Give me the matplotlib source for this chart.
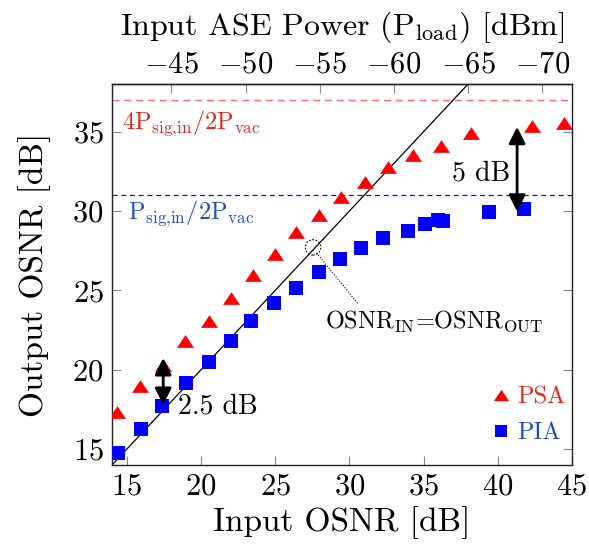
import matplotlib
matplotlib.use("Agg")
import matplotlib.pyplot as plt
from matplotlib.patches import Ellipse, FancyArrowPatch
import numpy as np

plt.rcParams['font.family'] = 'serif'
plt.rcParams['font.serif'] = ['cmr10']
plt.rcParams['mathtext.fontset'] = 'cm'
plt.rcParams['axes.formatter.use_mathtext'] = True
plt.rcParams['axes.unicode_minus'] = True

# ---- data ----
psa_in = [14.32, 15.88, 17.45, 18.95, 20.53, 22.01, 23.51, 24.97, 26.43, 27.93,
          29.46, 31.03, 32.60, 34.28, 36.19, 38.21, 42.29, 44.44]
psa_out = [17.33, 18.95, 20.31, 21.78, 23.04, 24.51, 25.98, 27.27, 28.65, 29.75,
           30.87, 31.85, 32.76, 33.53, 34.12, 34.90, 35.36, 35.57]
pia_in = [14.42, 15.93, 17.39, 18.98, 20.53, 22.01, 23.40, 24.92, 26.38, 27.93,
          29.34, 30.80, 32.28, 33.94, 35.06, 35.96, 36.30, 39.44, 41.79]
pia_out = [14.75, 16.26, 17.69, 19.16, 20.50, 21.82, 23.04, 24.20, 25.14, 26.15,
           26.97, 27.67, 28.30, 28.77, 29.20, 29.45, 29.40, 29.94, 30.13]
x_ticks = [15, 20, 25, 30, 35, 40, 45]
y_ticks = [15, 20, 25, 30, 35]
top_ticks = [-45, -50, -55, -60, -65, -70]
psa_limit = 37.0   # 4Psig,in/2Pvac
pia_limit = 31.0   # Psig,in/2Pvac
ase_offset = 27.0  # P_load = -(OSNR_in + offset)

fig = plt.figure(figsize=(5.89, 5.44), dpi=100)
ax = fig.add_axes([112/589, 1-465/544, 460/589, 381/544])
ax.set_xlim(14, 45)
ax.set_ylim(14, 38)

tri = [(-1, -0.75), (1, -0.75), (0, 0.75)]
ax.plot(psa_in, psa_out, linestyle='none', marker=tri, markersize=12.2,
        color='#ff0000', markeredgewidth=0, label='PSA', zorder=3)
ax.plot(pia_in, pia_out, linestyle='none', marker='s', markersize=10,
        color='#0000ff', markeredgewidth=0, label='PIA', zorder=3)

# reference lines
xx = np.array([14, 45])
ax.plot(xx, xx, color='black', lw=0.9, zorder=2)
ax.axhline(psa_limit, color='#ff6a6a', lw=1.0, dashes=(5, 3.5), zorder=1)
ax.axhline(pia_limit, color='#1010d0', lw=0.9, dashes=(4, 3), zorder=1)

ax.text(14.65, 35.15, r'4P$_{\mathrm{sig{,}in}}$/2P$_{\mathrm{vac}}$', color='#e3261c',
        fontsize=17.5, ha='left', va='baseline')
ax.text(15.1, 29.48, r'P$_{\mathrm{sig{,}in}}$/2P$_{\mathrm{vac}}$', color='#1f4cc0',
        fontsize=17.5, ha='left', va='baseline')

# arrows
for (xa, y0, y1) in [(41.30, 35.3, 29.96), (17.45, 20.73, 17.79)]:
    arr = FancyArrowPatch((xa, y1), (xa, y0),
                          arrowstyle='<|-|>,head_length=0.5,head_width=0.25',
                          mutation_scale=20, color='black', lw=2.0, zorder=5,
                          shrinkA=0, shrinkB=0)
    ax.add_patch(arr)
ax.text(38.9, 31.95, '5 dB', fontsize=20, ha='center', va='baseline', zorder=6)
ax.text(18.46, 17.22, '2.5 dB', fontsize=20, ha='left', va='baseline', zorder=6)

# OSNR_IN = OSNR_OUT annotation
ax.add_patch(Ellipse((27.55, 27.71), 1.04, 0.97, fill=False, ls=(0, (1.5, 1.5)),
                     lw=0.8, color='black', zorder=4))
ax.plot([27.78, 30.57], [27.36, 24.16], color='black', lw=0.8,
        ls=(0, (1, 1.5)), zorder=4)
ax.text(28.33, 22.63, r'OSNR$_{\mathrm{IN}}$=OSNR$_{\mathrm{OUT}}$', fontsize=17.5,
        ha='left', va='baseline')

# axes styling
ax.set_xticks(x_ticks)
ax.set_yticks(y_ticks)
ax.tick_params(axis='both', direction='in', length=6.5, width=0.8, color='#888888',
               labelsize=22, pad=6, right=True)
for s in ax.spines.values():
    s.set_linewidth(1.0)
    s.set_color('#222222')
ax.set_xlabel('Input OSNR [dB]', fontsize=24, labelpad=4)
ax.set_ylabel('Output OSNR [dB]', fontsize=24, labelpad=15)

sec = ax.secondary_xaxis('top', functions=(lambda x: -(x + ase_offset),
                                            lambda p: -(p + ase_offset)))
sec.set_xticks(top_ticks)
sec.tick_params(direction='in', length=6.5, width=0.8, color='#888888',
                labelsize=22, pad=4)
sec.spines['top'].set_linewidth(1.0)
sec.spines['top'].set_color('#222222')
sec.set_xlabel(r'Input ASE Power (P$_{\mathrm{load}}$) [dBm]', fontsize=23, labelpad=12)

leg = ax.legend(loc='lower right', bbox_to_anchor=(0.985, 0.055), frameon=False,
                fontsize=17.5, handlelength=0.8, handletextpad=0.25,
                labelspacing=0.55, borderpad=0, borderaxespad=0,
                labelcolor=['#e3261c', '#1f4cc0'], markerscale=0.9)

fig.savefig('out.png', dpi=100)
